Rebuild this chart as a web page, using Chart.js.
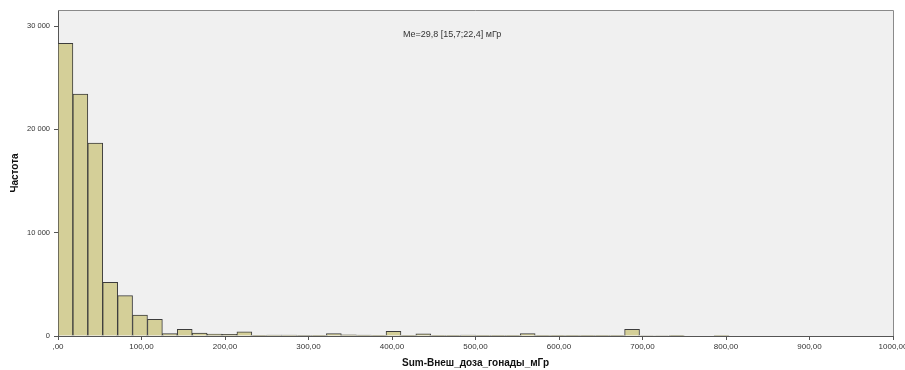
<!DOCTYPE html>
<html>
<head>
<meta charset="utf-8">
<script src="https://cdn.jsdelivr.net/npm/chart.js@4.4.1/dist/chart.umd.min.js"></script>
<style>
  body { margin: 0; background: #fff; }
  canvas { display: block; }
</style>
</head>
<body>
<canvas id="histChart" width="905" height="370"></canvas>
<script>
// histogram data
const binWidth = 1000 / 56;
const counts = [
  28330, 23420, 18670, 5200, 3910, 2035, 1620, 230, 650, 280,
  180, 150, 400, 70, 100, 100, 40, 20, 230, 120,
  80, 20, 460, 20, 200, 30, 10, 100, 20, 10,
  10, 230, 10, 20, 10, 10, 20, 10, 650, 50,
  50, 10, 0, 0, 5, 0, 0, 0, 0, 0,
  0, 0, 0, 0, 0, 0
];
const yTicks = [0, 10000, 20000, 30000];
const xTicks = [0, 100, 200, 300, 400, 500, 600, 700, 800, 900, 1000];
const xTitle = "Sum-Внеш_доза_гонады_мГр";
const yTitle = "Частота";
const medianNote = "Me=29,8 [15,7;22,4] мГр";

const points = counts.map((c, i) => ({ x: (i + 0.5) * binWidth, y: c }));

const fontFamily = "'Liberation Sans', Arial, sans-serif";

// grey plot background, frame and the median note
const plotDecor = {
  id: "plotDecor",
  beforeDraw(chart) {
    const { ctx, chartArea: a } = chart;
    ctx.save();
    ctx.fillStyle = "#f0f0f0";
    ctx.fillRect(a.left, a.top, a.right - a.left, a.bottom - a.top);
    ctx.restore();
  },
  afterDraw(chart) {
    const { ctx, chartArea: a } = chart;
    ctx.save();
    ctx.strokeStyle = "#8a8a8a";
    ctx.lineWidth = 1;
    ctx.beginPath();
    ctx.moveTo(a.left, a.top + 0.5);
    ctx.lineTo(a.right + 0.5, a.top + 0.5);
    ctx.lineTo(a.right + 0.5, a.bottom);
    ctx.stroke();
    ctx.fillStyle = "#333";
    ctx.font = "9px " + fontFamily;
    ctx.textAlign = "center";
    ctx.textBaseline = "middle";
    ctx.fillText(medianNote, a.left + (a.right - a.left) * 0.472, a.top + 25);
    ctx.restore();
  }
};

const fmtX = v => (v === 0 ? ",00" : v + ",00");
const fmtY = v => (v === 0 ? "0" : String(v).replace(/(\d)(?=(\d{3})+$)/g, "$1 "));

new Chart(document.getElementById("histChart"), {
  type: "bar",
  data: {
    datasets: [{
      data: points,
      backgroundColor: "#d4cf98",
      borderColor: "#3c3c3c",
      borderWidth: 1,
      barPercentage: 1,
      categoryPercentage: 1
    }]
  },
  options: {
    responsive: false,
    animation: false,
    layout: { padding: { left: 0, right: 12, top: 10, bottom: 0 } },
    plugins: { legend: { display: false }, tooltip: { enabled: false } },
    scales: {
      x: {
        type: "linear",
        min: 0,
        max: 1000,
        offset: false,
        afterBuildTicks: s => { s.ticks = xTicks.map(v => ({ value: v })); },
        afterFit: s => { s.height = 34; s.paddingLeft = 0; s.paddingRight = 0; },
        ticks: {
          callback: fmtX,
          maxRotation: 0,
          autoSkip: false,
          padding: 2,
          color: "#333",
          font: { family: fontFamily, size: 8 }
        },
        grid: { offset: false, drawOnChartArea: false, tickLength: 4, color: "#555" },
        border: { color: "#555" },
        title: {
          display: true,
          text: xTitle,
          color: "#111",
          font: { family: fontFamily, size: 10, weight: "bold" },
          padding: { top: 0, bottom: 1 }
        }
      },
      y: {
        min: 0,
        max: 31560,
        afterBuildTicks: s => { s.ticks = yTicks.map(v => ({ value: v })); },
        afterFit: s => { s.width = 58; },
        ticks: {
          callback: fmtY,
          padding: 4,
          color: "#333",
          font: { family: fontFamily, size: 7.5 }
        },
        grid: { drawOnChartArea: false, tickLength: 4, color: "#555" },
        border: { color: "#555" },
        title: {
          display: true,
          text: yTitle,
          color: "#111",
          font: { family: fontFamily, size: 10, weight: "bold" },
          padding: { top: 9, bottom: 0 }
        }
      }
    }
  },
  plugins: [plotDecor]
});
</script>
</body>
</html>
